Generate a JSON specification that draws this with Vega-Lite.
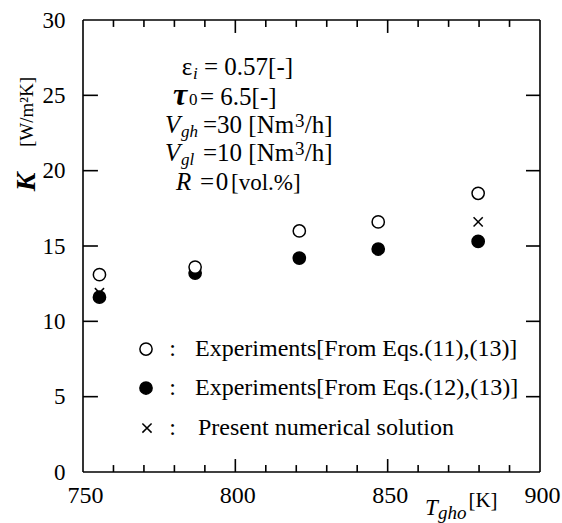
{
  "$schema": "https://vega.github.io/schema/vega-lite/v6.json",
  "width": 467,
  "height": 462,
  "autosize": {"type": "none"},
  "padding": {"left": 78, "top": 15, "right": 17, "bottom": 46},
  "background": "white",
  "config": {
    "view": {"stroke": null},
    "font": "Liberation Serif",
    "text": {"font": "Liberation Serif", "color": "black"}
  },
  "resolve": {"axis": {"x": "independent", "y": "independent"}},
  "layer": [
    {
      "data": {"values": [
        {"T": 755.4, "K": 11.6, "series": "Experiments[From Eqs.(12),(13)]"},
        {"T": 755.4, "K": 11.9, "series": "Present numerical solution"},
        {"T": 755.4, "K": 13.1, "series": "Experiments[From Eqs.(11),(13)]"},
        {"T": 786.8, "K": 13.2, "series": "Experiments[From Eqs.(12),(13)]"},
        {"T": 786.8, "K": 13.6, "series": "Experiments[From Eqs.(11),(13)]"},
        {"T": 821.0, "K": 14.2, "series": "Experiments[From Eqs.(12),(13)]"},
        {"T": 821.0, "K": 16.0, "series": "Experiments[From Eqs.(11),(13)]"},
        {"T": 846.9, "K": 14.8, "series": "Experiments[From Eqs.(12),(13)]"},
        {"T": 846.9, "K": 16.6, "series": "Experiments[From Eqs.(11),(13)]"},
        {"T": 879.7, "K": 15.3, "series": "Experiments[From Eqs.(12),(13)]"},
        {"T": 879.7, "K": 16.6, "series": "Present numerical solution"},
        {"T": 879.7, "K": 18.5, "series": "Experiments[From Eqs.(11),(13)]"}
      ]},
      "mark": {"type": "point", "filled": false, "stroke": "black", "strokeWidth": 1.5, "size": 150, "opacity": 1},
      "encoding": {
        "x": {
          "field": "T", "type": "quantitative",
          "scale": {"domain": [750, 900], "nice": false, "zero": false, "padding": 5},
          "axis": {
            "orient": "bottom",
            "values": [750, 800, 850, 900],
            "ticks": false,
            "labelPadding": 18,
            "labelOffset": 2,
            "labelBaseline": "middle",
            "labelAlign": "center",
            "labelFlush": false,
            "labelOverlap": false,
            "labelFont": "Liberation Serif",
            "labelFontSize": 24,
            "labelColor": "black",
            "domain": false,
            "grid": false,
            "title": null
          }
        },
        "y": {
          "field": "K", "type": "quantitative",
          "scale": {"domain": [0, 30], "nice": false, "zero": false, "padding": 5},
          "axis": {
            "orient": "left",
            "values": [0, 5, 10, 15, 20, 25, 30],
            "ticks": false,
            "labelPadding": 13,
            "labelFont": "Liberation Serif",
            "labelFontSize": 23,
            "labelColor": "black",
            "labelFlush": false,
            "labelOverlap": false,
            "domain": false,
            "grid": false,
            "title": null
          }
        },
        "fill": {
          "field": "series", "type": "nominal",
          "scale": {
            "domain": ["Experiments[From Eqs.(11),(13)]", "Experiments[From Eqs.(12),(13)]", "Present numerical solution"],
            "range": ["white", "black", "transparent"]
          },
          "legend": null
        },
        "shape": {
          "field": "series", "type": "nominal",
          "scale": {
            "domain": ["Experiments[From Eqs.(11),(13)]", "Experiments[From Eqs.(12),(13)]", "Present numerical solution"],
            "range": ["circle", "circle", "M-0.75,-0.75L0.75,0.75M-0.75,0.75L0.75,-0.75"]
          },
          "legend": null
        }
      }
    },
    {"data": {"values": [{}]}, "mark": {"type": "bar", "size": 1.6, "color": "black", "orient": "horizontal"},
     "encoding": {"y": {"datum": 0, "type": "quantitative", "axis": null}, "x": {"datum": 750, "type": "quantitative", "axis": null}, "x2": {"datum": 900}}},
    {"data": {"values": [{}]}, "mark": {"type": "bar", "size": 1.6, "color": "black", "orient": "horizontal"},
     "encoding": {"y": {"datum": 30, "type": "quantitative", "axis": null}, "x": {"datum": 750, "type": "quantitative", "axis": null}, "x2": {"datum": 900}}},
    {"data": {"values": [{}]}, "mark": {"type": "bar", "size": 1.6, "color": "black", "orient": "vertical"},
     "encoding": {"x": {"datum": 750, "type": "quantitative", "axis": null}, "y": {"datum": 0, "type": "quantitative", "axis": null}, "y2": {"datum": 30}}},
    {"data": {"values": [{}]}, "mark": {"type": "bar", "size": 1.6, "color": "black", "orient": "vertical"},
     "encoding": {"x": {"datum": 900, "type": "quantitative", "axis": null}, "y": {"datum": 0, "type": "quantitative", "axis": null}, "y2": {"datum": 30}}},
    {"data": {"values": [{"tick": 760}, {"tick": 770}, {"tick": 780}, {"tick": 790}, {"tick": 810}, {"tick": 820}, {"tick": 830}, {"tick": 840}, {"tick": 860}, {"tick": 870}, {"tick": 880}, {"tick": 890}]},
     "mark": {"type": "bar", "size": 1.6, "color": "black", "orient": "vertical"},
     "encoding": {"x": {"field": "tick", "type": "quantitative", "axis": null}, "y": {"datum": 0, "type": "quantitative", "axis": null}, "y2": {"datum": 0.46}}},
    {"data": {"values": [{"tick": 800}, {"tick": 850}]},
     "mark": {"type": "bar", "size": 1.6, "color": "black", "orient": "vertical"},
     "encoding": {"x": {"field": "tick", "type": "quantitative", "axis": null}, "y": {"datum": 0, "type": "quantitative", "axis": null}, "y2": {"datum": 0.86}}},
    {"data": {"values": [{"tickTop": 760}, {"tickTop": 770}, {"tickTop": 780}, {"tickTop": 790}, {"tickTop": 810}, {"tickTop": 820}, {"tickTop": 830}, {"tickTop": 840}, {"tickTop": 860}, {"tickTop": 870}, {"tickTop": 880}, {"tickTop": 890}]},
     "mark": {"type": "bar", "size": 1.6, "color": "black", "orient": "vertical"},
     "encoding": {"x": {"field": "tickTop", "type": "quantitative", "axis": null}, "y": {"datum": 30, "type": "quantitative", "axis": null}, "y2": {"datum": 29.54}}},
    {"data": {"values": [{"tickTop": 800}, {"tickTop": 850}]},
     "mark": {"type": "bar", "size": 1.6, "color": "black", "orient": "vertical"},
     "encoding": {"x": {"field": "tickTop", "type": "quantitative", "axis": null}, "y": {"datum": 30, "type": "quantitative", "axis": null}, "y2": {"datum": 29.14}}},
    {"data": {"values": [{"tickY": 5}, {"tickY": 10}, {"tickY": 15}, {"tickY": 20}, {"tickY": 25}]},
     "mark": {"type": "bar", "size": 1.6, "color": "black", "orient": "horizontal"},
     "encoding": {"y": {"field": "tickY", "type": "quantitative", "axis": null}, "x": {"datum": 750, "type": "quantitative", "axis": null}, "x2": {"datum": 754.9}}},
    {"data": {"values": [{"tickR": 5}, {"tickR": 10}, {"tickR": 15}, {"tickR": 20}, {"tickR": 25}]},
     "mark": {"type": "bar", "size": 1.6, "color": "black", "orient": "horizontal"},
     "encoding": {"y": {"field": "tickR", "type": "quantitative", "axis": null}, "x": {"datum": 900, "type": "quantitative", "axis": null}, "x2": {"datum": 895.4}}},
    {"data": {"values": [{"series": "Experiments[From Eqs.(11),(13)]"}]}, "mark": {"type": "point", "filled": false, "stroke": "black", "strokeWidth": 1.5, "size": 150, "opacity": 1},
     "encoding": {"x": {"datum": 770.68, "type": "quantitative", "axis": null}, "y": {"datum": 8.16, "type": "quantitative", "axis": null},
       "fill": {"field": "series", "type": "nominal", "legend": null}, "shape": {"field": "series", "type": "nominal", "legend": null}}},
    {"data": {"values": [{"series": "Experiments[From Eqs.(12),(13)]"}]}, "mark": {"type": "point", "filled": false, "stroke": "black", "strokeWidth": 1.5, "size": 150, "opacity": 1},
     "encoding": {"x": {"datum": 770.68, "type": "quantitative", "axis": null}, "y": {"datum": 5.575, "type": "quantitative", "axis": null},
       "fill": {"field": "series", "type": "nominal", "legend": null}, "shape": {"field": "series", "type": "nominal", "legend": null}}},
    {"data": {"values": [{"series": "Present numerical solution"}]}, "mark": {"type": "point", "filled": false, "stroke": "black", "strokeWidth": 1.5, "size": 150, "opacity": 1},
     "encoding": {"x": {"datum": 771.0, "type": "quantitative", "axis": null}, "y": {"datum": 2.92, "type": "quantitative", "axis": null},
       "fill": {"field": "series", "type": "nominal", "legend": null}, "shape": {"field": "series", "type": "nominal", "legend": null}}},
    {"data": {"values": [{"series": "Experiments[From Eqs.(11),(13)]"}]}, "mark": {"type": "text", "align": "left", "baseline": "middle", "fontSize": 24},
     "encoding": {"text": {"field": "series"}, "x": {"datum": 786.76, "type": "quantitative", "axis": null}, "y": {"datum": 8.16, "type": "quantitative", "axis": null}}},
    {"data": {"values": [{"series": "Experiments[From Eqs.(12),(13)]"}]}, "mark": {"type": "text", "align": "left", "baseline": "middle", "fontSize": 24},
     "encoding": {"text": {"field": "series"}, "x": {"datum": 786.76, "type": "quantitative", "axis": null}, "y": {"datum": 5.575, "type": "quantitative", "axis": null}}},
    {"data": {"values": [{"series": "Present numerical solution"}]}, "mark": {"type": "text", "align": "left", "baseline": "middle", "fontSize": 24},
     "encoding": {"text": {"field": "series"}, "x": {"datum": 787.75, "type": "quantitative", "axis": null}, "y": {"datum": 2.92, "type": "quantitative", "axis": null}}},
    {"data": {"values": [{}]}, "mark": {"type": "text", "text": ":", "align": "left", "baseline": "middle", "fontSize": 24},
     "encoding": {"x": {"datum": 778.3, "type": "quantitative", "axis": null}, "y": {"datum": 8.16, "type": "quantitative", "axis": null}}},
    {"data": {"values": [{}]}, "mark": {"type": "text", "text": ":", "align": "left", "baseline": "middle", "fontSize": 24},
     "encoding": {"x": {"datum": 778.3, "type": "quantitative", "axis": null}, "y": {"datum": 5.575, "type": "quantitative", "axis": null}}},
    {"data": {"values": [{}]}, "mark": {"type": "text", "text": ":", "align": "left", "baseline": "middle", "fontSize": 24},
     "encoding": {"x": {"datum": 778.3, "type": "quantitative", "axis": null}, "y": {"datum": 2.92, "type": "quantitative", "axis": null}}},
    {"data": {"values": [{}]}, "mark": {"type": "text", "text": "= 0.57[-]", "align": "left", "baseline": "alphabetic", "fontSize": 25},
     "encoding": {"x": {"datum": 789.7, "type": "quantitative", "axis": null}, "y": {"datum": 26.35, "type": "quantitative", "axis": null}}},
    {"data": {"values": [{}]}, "mark": {"type": "text", "text": "ε", "align": "left", "baseline": "alphabetic", "fontSize": 25},
     "encoding": {"x": {"datum": 782.39, "type": "quantitative", "axis": null}, "y": {"datum": 26.35, "type": "quantitative", "axis": null}}},
    {"data": {"values": [{}]}, "mark": {"type": "text", "text": "i", "align": "left", "baseline": "alphabetic", "fontSize": 17, "fontStyle": "italic"},
     "encoding": {"x": {"datum": 786.1, "type": "quantitative", "axis": null}, "y": {"datum": 26.08, "type": "quantitative", "axis": null}}},
    {"data": {"values": [{}]}, "mark": {"type": "text", "text": "τ", "align": "left", "baseline": "alphabetic", "fontSize": 32, "fontStyle": "italic", "fontWeight": "bold"},
     "encoding": {"x": {"datum": 779.54, "type": "quantitative", "axis": null}, "y": {"datum": 24.36, "type": "quantitative", "axis": null}}},
    {"data": {"values": [{}]}, "mark": {"type": "text", "text": "0", "align": "left", "baseline": "alphabetic", "fontSize": 17},
     "encoding": {"x": {"datum": 784.79, "type": "quantitative", "axis": null}, "y": {"datum": 24.36, "type": "quantitative", "axis": null}}},
    {"data": {"values": [{}]}, "mark": {"type": "text", "text": "= 6.5[-]", "align": "left", "baseline": "alphabetic", "fontSize": 25},
     "encoding": {"x": {"datum": 788.4, "type": "quantitative", "axis": null}, "y": {"datum": 24.36, "type": "quantitative", "axis": null}}},
    {"data": {"values": [{}]}, "mark": {"type": "text", "text": "V", "align": "left", "baseline": "alphabetic", "fontSize": 25, "fontStyle": "italic"},
     "encoding": {"x": {"datum": 776.91, "type": "quantitative", "axis": null}, "y": {"datum": 22.5, "type": "quantitative", "axis": null}}},
    {"data": {"values": [{}]}, "mark": {"type": "text", "text": "gh", "align": "left", "baseline": "alphabetic", "fontSize": 17, "fontStyle": "italic"},
     "encoding": {"x": {"datum": 782.17, "type": "quantitative", "axis": null}, "y": {"datum": 22.23, "type": "quantitative", "axis": null}}},
    {"data": {"values": [{}]}, "mark": {"type": "text", "text": "=30 [Nm", "align": "left", "baseline": "alphabetic", "fontSize": 25},
     "encoding": {"x": {"datum": 789.39, "type": "quantitative", "axis": null}, "y": {"datum": 22.5, "type": "quantitative", "axis": null}}},
    {"data": {"values": [{}]}, "mark": {"type": "text", "text": "3", "align": "left", "baseline": "alphabetic", "fontSize": 19},
     "encoding": {"x": {"datum": 819.6, "type": "quantitative", "axis": null}, "y": {"datum": 22.9, "type": "quantitative", "axis": null}}},
    {"data": {"values": [{}]}, "mark": {"type": "text", "text": "/h]", "align": "left", "baseline": "alphabetic", "fontSize": 25},
     "encoding": {"x": {"datum": 822.8, "type": "quantitative", "axis": null}, "y": {"datum": 22.5, "type": "quantitative", "axis": null}}},
    {"data": {"values": [{}]}, "mark": {"type": "text", "text": "V", "align": "left", "baseline": "alphabetic", "fontSize": 25, "fontStyle": "italic"},
     "encoding": {"x": {"datum": 776.91, "type": "quantitative", "axis": null}, "y": {"datum": 20.64, "type": "quantitative", "axis": null}}},
    {"data": {"values": [{}]}, "mark": {"type": "text", "text": "gl", "align": "left", "baseline": "alphabetic", "fontSize": 17, "fontStyle": "italic"},
     "encoding": {"x": {"datum": 782.17, "type": "quantitative", "axis": null}, "y": {"datum": 20.38, "type": "quantitative", "axis": null}}},
    {"data": {"values": [{}]}, "mark": {"type": "text", "text": "=10 [Nm", "align": "left", "baseline": "alphabetic", "fontSize": 25},
     "encoding": {"x": {"datum": 789.39, "type": "quantitative", "axis": null}, "y": {"datum": 20.64, "type": "quantitative", "axis": null}}},
    {"data": {"values": [{}]}, "mark": {"type": "text", "text": "3", "align": "left", "baseline": "alphabetic", "fontSize": 19},
     "encoding": {"x": {"datum": 819.6, "type": "quantitative", "axis": null}, "y": {"datum": 21.04, "type": "quantitative", "axis": null}}},
    {"data": {"values": [{}]}, "mark": {"type": "text", "text": "/h]", "align": "left", "baseline": "alphabetic", "fontSize": 25},
     "encoding": {"x": {"datum": 822.8, "type": "quantitative", "axis": null}, "y": {"datum": 20.64, "type": "quantitative", "axis": null}}},
    {"data": {"values": [{}]}, "mark": {"type": "text", "text": "R", "align": "left", "baseline": "alphabetic", "fontSize": 25, "fontStyle": "italic"},
     "encoding": {"x": {"datum": 780.5, "type": "quantitative", "axis": null}, "y": {"datum": 18.72, "type": "quantitative", "axis": null}}},
    {"data": {"values": [{}]}, "mark": {"type": "text", "text": "=", "align": "left", "baseline": "alphabetic", "fontSize": 25},
     "encoding": {"x": {"datum": 788.4, "type": "quantitative", "axis": null}, "y": {"datum": 18.72, "type": "quantitative", "axis": null}}},
    {"data": {"values": [{}]}, "mark": {"type": "text", "text": "0", "align": "left", "baseline": "alphabetic", "fontSize": 25},
     "encoding": {"x": {"datum": 793.6, "type": "quantitative", "axis": null}, "y": {"datum": 18.72, "type": "quantitative", "axis": null}}},
    {"data": {"values": [{}]}, "mark": {"type": "text", "text": "[vol.%]", "align": "left", "baseline": "alphabetic", "fontSize": 23},
     "encoding": {"x": {"datum": 798.6, "type": "quantitative", "axis": null}, "y": {"datum": 18.72, "type": "quantitative", "axis": null}}},
    {"data": {"values": [{}]}, "mark": {"type": "text", "text": "K", "align": "center", "baseline": "middle", "angle": 270, "fontSize": 28, "fontStyle": "italic", "fontWeight": "bold"},
     "encoding": {"x": {"datum": 731.62, "type": "quantitative", "axis": null}, "y": {"datum": 19.25, "type": "quantitative", "axis": null}}},
    {"data": {"values": [{}]}, "mark": {"type": "text", "text": "[W/m²K]", "align": "center", "baseline": "middle", "angle": 270, "fontSize": 19},
     "encoding": {"x": {"datum": 731.62, "type": "quantitative", "axis": null}, "y": {"datum": 23.89, "type": "quantitative", "axis": null}}},
    {"data": {"values": [{}]}, "mark": {"type": "text", "text": "T", "align": "left", "baseline": "alphabetic", "fontSize": 23, "fontStyle": "italic"},
     "encoding": {"x": {"datum": 862.25, "type": "quantitative", "axis": null}, "y": {"datum": -2.85, "type": "quantitative", "axis": null}}},
    {"data": {"values": [{}]}, "mark": {"type": "text", "text": "gho", "align": "left", "baseline": "alphabetic", "fontSize": 19, "fontStyle": "italic"},
     "encoding": {"x": {"datum": 866.52, "type": "quantitative", "axis": null}, "y": {"datum": -3.12, "type": "quantitative", "axis": null}}},
    {"data": {"values": [{}]}, "mark": {"type": "text", "text": "[K]", "align": "left", "baseline": "alphabetic", "fontSize": 21},
     "encoding": {"x": {"datum": 876.5, "type": "quantitative", "axis": null}, "y": {"datum": -2.32, "type": "quantitative", "axis": null}}}
  ]
}
